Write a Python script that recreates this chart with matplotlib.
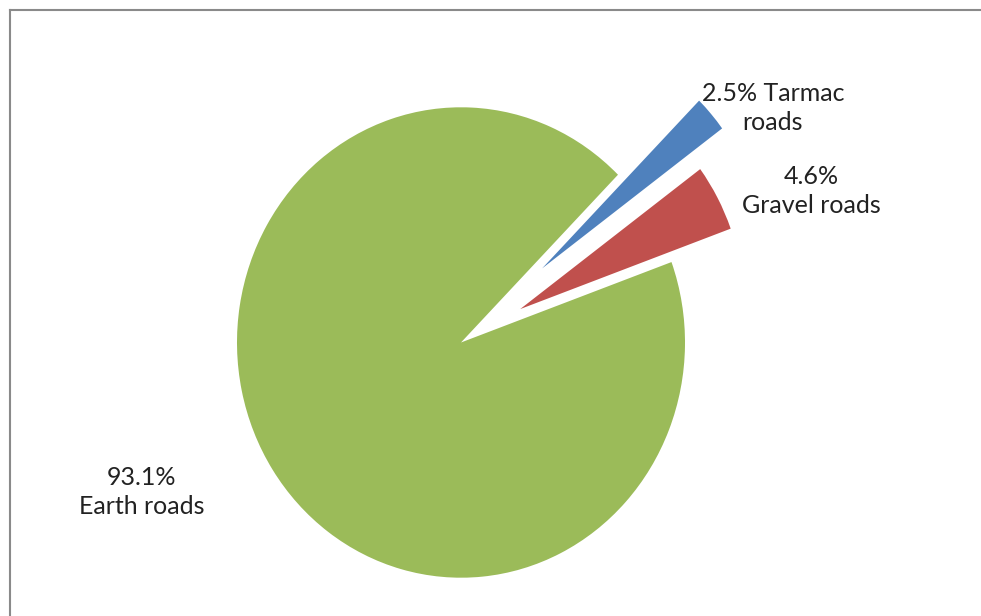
import matplotlib
matplotlib.use("Agg")
import matplotlib.pyplot as plt
from matplotlib.lines import Line2D

# Road network composition (% of total length)
categories = ["Gravel roads", "Tarmac roads", "Earth roads"]
shares = [4.6, 2.5, 93.1]
label_texts = ["4.6%\nGravel roads", "2.5% Tarmac\nroads", "93.1%\nEarth roads"]
colors = ["#C0504D", "#4F81BD", "#9BBB59"]
explode_frac = [0.30, 0.48, 0.0]

W, H = 981, 616
sy = 1.05  # slight vertical stretch of the pie
fig = plt.figure(figsize=(W / 100, H / 100), dpi=100)
ax = fig.add_axes([0, 0, 1, 1])

cx, cy, r = 461, (H - 342.5) / sy, 224
ax.pie(shares, colors=colors, explode=[f * r for f in explode_frac],
       startangle=20, counterclock=True, center=(cx, cy), radius=r,
       wedgeprops=dict(linewidth=0), frame=True)
ax.set_xlim(0, W)
ax.set_ylim(0, H / sy)
ax.set_aspect("auto")
ax.axis("off")

label_pos = [(811, 191), (773, 108), (142, 492)]
for txt, (x, y) in zip(label_texts, label_pos):
    ax.text(x, (H - y) / sy, txt, ha="center", va="center", fontsize=18,
            family="Lato", color="#222222", linespacing=1.3)

# thin frame along top and left edges
fig.add_artist(Line2D([9.5 / W, 1], [1 - 9.5 / H, 1 - 9.5 / H],
                      transform=fig.transFigure, color="#8a8a8a", lw=1.5))
fig.add_artist(Line2D([9.5 / W, 9.5 / W], [0, 1 - 9.5 / H],
                      transform=fig.transFigure, color="#8a8a8a", lw=1.5))

fig.savefig("out.png", dpi=100)
